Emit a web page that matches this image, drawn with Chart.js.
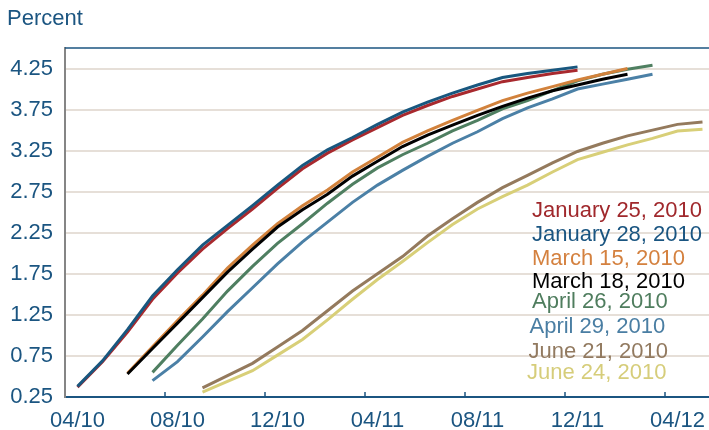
<!DOCTYPE html>
<html>
<head>
<meta charset="utf-8">
<script src="https://cdn.jsdelivr.net/npm/chart.js@4/dist/chart.umd.min.js"></script>
<style>
  html, body { margin: 0; padding: 0; background: #ffffff; }
  #wrap { width: 709px; height: 430px; position: relative; }
</style>
</head>
<body>
<div id="wrap"><canvas id="c" width="709" height="430"></canvas></div>
<script>
// ---- Data ----
const months = ["04/10","05/10","06/10","07/10","08/10","09/10","10/10","11/10","12/10",
                "01/11","02/11","03/11","04/11","05/11","06/11","07/11","08/11","09/11","10/11","11/11","12/11",
                "01/12","02/12","03/12","04/12","05/12"];
const xTickMonths = [0, 4, 8, 12, 16, 20, 24];
const yTickValues = [0.25, 0.75, 1.25, 1.75, 2.25, 2.75, 3.25, 3.75, 4.25];

const seriesNames = ["January 25, 2010","January 28, 2010","March 15, 2010","March 18, 2010",
                     "April 26, 2010","April 29, 2010","June 21, 2010","June 24, 2010"];
const startMonths = [0, 0, 2, 2, 3, 3, 5, 5];

const jan25 = [0.37,0.68,1.04,1.44,1.76,2.05,2.30,2.54,2.79,3.03,3.22,3.38,3.53,3.68,3.80,3.91,4.00,4.09,4.14,4.19,4.23];
const jan28 = [0.38,0.69,1.07,1.48,1.80,2.10,2.34,2.58,2.83,3.07,3.26,3.41,3.57,3.72,3.84,3.95,4.05,4.14,4.19,4.23,4.27];
const mar15 = [0.54,0.86,1.18,1.49,1.82,2.10,2.36,2.58,2.77,2.99,3.17,3.35,3.49,3.62,3.74,3.86,3.95,4.03,4.11,4.18,4.25];
const mar18 = [0.53,0.84,1.15,1.46,1.77,2.05,2.32,2.53,2.72,2.94,3.12,3.30,3.44,3.56,3.68,3.79,3.89,3.98,4.05,4.12,4.18];
const apr26 = [0.55,0.88,1.20,1.54,1.84,2.12,2.36,2.61,2.84,3.04,3.20,3.34,3.49,3.62,3.76,3.86,3.98,4.10,4.18,4.24,4.29];
const apr29 = [0.45,0.68,0.98,1.29,1.58,1.87,2.14,2.38,2.62,2.83,3.01,3.18,3.34,3.48,3.64,3.77,3.88,4.00,4.06,4.12,4.18];
const jun21 = [0.36,0.51,0.66,0.86,1.06,1.30,1.54,1.75,1.96,2.21,2.42,2.62,2.80,2.95,3.10,3.24,3.34,3.43,3.50,3.57,3.60];
const jun24 = [0.31,0.44,0.57,0.76,0.95,1.19,1.44,1.68,1.90,2.13,2.35,2.54,2.69,2.83,2.99,3.14,3.23,3.32,3.40,3.49,3.51];

const seriesValues = [jan25, jan28, mar15, mar18, apr26, apr29, jun21, jun24];

// ---- Styles ----
const lineColors = ["#a8292e","#18577f","#d2823c","#000000","#4f7f61","#4b80a6","#947a5d","#d8cf78"];
const textColors = ["#a0282c","#1a5581","#d4813f","#000000","#4f7d5e","#4a7ea3","#927a60","#d6cd7a"];
const drawOrder  = [2, 1, 4, 3, 5, 6, 7, 8];
const axisBlue = "#1b5581";
const FONT = "'Liberation Sans', Arial, sans-serif";

const datasets = seriesNames.map((name, s) => ({
  label: name,
  data: seriesValues[s].map((v, i) => ({ x: startMonths[s] + i + 0.5, y: v })),
  borderColor: lineColors[s],
  backgroundColor: lineColors[s],
  borderWidth: 3,
  pointRadius: 0,
  tension: 0,
  fill: false,
  order: drawOrder[s]
}));

// Labels of the series, drawn as coloured text to the right of the plot
const labelPos = [[532,216.5],[532,241],[532,264.5],[532,288],[532,308],[529.5,333],[528.5,358],[527,379]];

const decorPlugin = {
  id: 'decor',
  afterDraw(chart) {
    const ctx = chart.ctx;
    const a = chart.chartArea;
    const xs = chart.scales.x;
    ctx.save();
    // top frame line
    ctx.strokeStyle = axisBlue;
    ctx.lineWidth = 1.5;
    ctx.beginPath();
    ctx.moveTo(a.left, a.top);
    ctx.lineTo(a.right, a.top);
    ctx.stroke();
    // inward tick marks on x axis
    ctx.lineWidth = 1.5;
    xs.ticks.forEach(t => {
      if (t.value === 0) return;
      const px = xs.getPixelForValue(t.value);
      ctx.beginPath();
      ctx.moveTo(px, a.bottom - 5);
      ctx.lineTo(px, a.bottom);
      ctx.stroke();
    });
    // axis title
    ctx.fillStyle = axisBlue;
    ctx.font = "22px " + FONT;
    ctx.textAlign = "left";
    ctx.textBaseline = "alphabetic";
    ctx.fillText("Percent", 7, 25);
    // series labels
    seriesNames.forEach((n, s) => {
      ctx.fillStyle = textColors[s];
      ctx.fillText(n, labelPos[s][0], labelPos[s][1]);
    });
    ctx.restore();
  }
};

new Chart(document.getElementById('c'), {
  type: 'line',
  data: { datasets },
  options: {
    responsive: false,
    animation: false,
    devicePixelRatio: 1,
    layout: { padding: { top: 48, left: 0, right: 0, bottom: 0 } },
    plugins: { legend: { display: false }, tooltip: { enabled: false } },
    scales: {
      x: {
        type: 'linear',
        min: 0,
        max: 25.76,
        afterBuildTicks: axis => { axis.ticks = xTickMonths.map(v => ({ value: v })); },
        afterFit: s => { s.height = 33; },
        ticks: {
          autoSkip: false,
          maxRotation: 0,
          labelOffset: 12.5,
          padding: 11,
          color: axisBlue,
          font: { family: FONT, size: 22 },
          callback: v => months[v]
        },
        grid: { drawOnChartArea: false, drawTicks: false },
        border: { color: axisBlue, width: 2 }
      },
      y: {
        type: 'linear',
        min: 0.25,
        max: 4.5,
        afterBuildTicks: axis => { axis.ticks = yTickValues.map(v => ({ value: v })); },
        afterFit: s => { s.width = 65; },
        ticks: {
          padding: 12,
          color: axisBlue,
          font: { family: FONT, size: 22 },
          callback: v => Number(v).toFixed(2)
        },
        grid: { color: "#e6dfd8", lineWidth: 2, drawTicks: false },
        border: { color: "#858585", width: 2 }
      }
    }
  },
  plugins: [decorPlugin]
});
</script>
</body>
</html>
